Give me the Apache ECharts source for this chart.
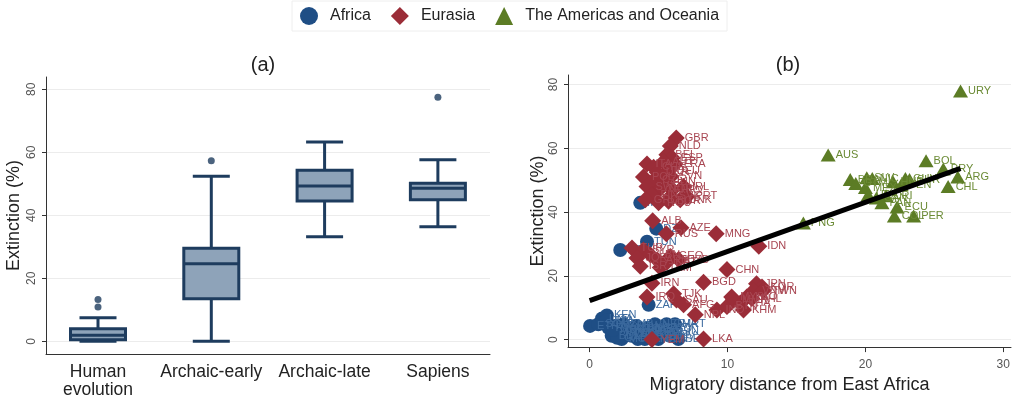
<!DOCTYPE html>
<html>
<head>
<meta charset="utf-8">
<script src="https://cdn.jsdelivr.net/npm/echarts@6/dist/echarts.min.js"></script>
<style>
  html, body { margin: 0; padding: 0; background: #ffffff; }
  #chart { width: 1015px; height: 399px; }
</style>
</head>
<body>
<div id="chart"></div>
<script>
// ---- Panel (a): extinction by stage of human evolution ----
const groups = ['Human\nevolution', 'Archaic-early', 'Archaic-late', 'Sapiens'];
// [lower whisker, Q1, median, Q3, upper whisker]
const boxStats = [
  [0, 0.5, 1.9, 4.0, 7.5],
  [0, 13.5, 24.6, 29.5, 52.4],
  [33.2, 44.5, 49.3, 54.3, 63.3],
  [36.4, 44.9, 48.6, 50.2, 57.6]
];
// [group index, value]
const boxOutliers = [[0, 13.3], [0, 10.9], [1, 57.3], [3, 77.5]];

// ---- Panel (b): extinction vs migratory distance, by region ----
// [distance, extinction, country code]
const africa = [
  [0.03, 4.3, 'ETH'], [0.63, 4.8, 'SOM'], [0.9, 6.6, 'UGA'], [1.25, 7.6, 'KEN'],
  [1.23, 6.0, 'TZA'], [1.36, 3.7, 'RWA'], [1.6, 1.2, 'BDI'], [1.84, 4.3, 'SSD'],
  [2.08, 2.2, 'MWI'], [2.44, 4.8, 'ZMB'], [2.32, 0.2, 'MOZ'], [2.65, 1.8, 'COD'],
  [2.8, 3.2, 'AGO'], [3.04, 1.2, 'ZWE'], [3.41, 4.3, 'BWA'], [3.5, 0.2, 'NAM'],
  [3.77, 2.2, 'CAF'], [4.0, 0.2, 'CMR'], [4.2, 1.2, 'TCD'], [4.25, 3.7, 'NGA'],
  [4.74, 4.8, 'NER'], [4.98, 0.2, 'BEN'], [5.2, 3.2, 'TGO'], [5.58, 4.8, 'GHA'],
  [5.83, 1.2, 'CIV'], [6.19, 4.8, 'MRT'], [6.43, 0.2, 'SEN'], [5.4, 2.0, 'MLI'],
  [4.5, 2.5, 'BFA'], [6.0, 2.8, 'GIN'], [3.2, 2.8, 'LBR'], [5.0, 1.6, 'SLE'],
  [2.0, 0.6, 'GAB'], [1.7, 3.0, 'MDG'], [3.6, 3.4, 'COG'],
  [4.28, 10.9, 'ZAF'], [2.22, 28.1, 'EGY'], [4.16, 30.7, 'TUN'],
  [4.83, 34.8, 'DZA'], [3.67, 42.9, 'MAR']
];
const eurasia = [
  [6.28, 63.2, 'GBR'], [5.85, 60.7, 'NLD'], [5.6, 58.0, 'BEL'], [6.0, 57.0, 'ESP'],
  [6.2, 55.0, 'FRA'], [5.7, 53.0, 'DEU'], [4.16, 55.1, 'ITA'], [4.64, 54.1, 'CHE'],
  [5.36, 55.8, 'AUT'], [3.9, 51.0, 'POL'], [4.64, 50.0, 'CZE'], [5.36, 49.5, 'HUN'],
  [4.16, 48.0, 'SWE'], [5.12, 47.4, 'NOR'], [6.81, 48.0, 'IRL'], [4.52, 45.4, 'FIN'],
  [6.57, 43.9, 'DNK'], [7.06, 44.9, 'PRT'], [4.04, 43.9, 'GRC'], [5.0, 42.9, 'ROU'],
  [5.72, 43.4, 'BGR'], [5.85, 44.9, 'SVK'], [4.9, 52.5, 'UKR'], [5.9, 51.2, 'SVN'],
  [6.0, 47.0, 'HRV'],
  [4.57, 37.3, 'ALB'], [5.56, 33.2, 'RUS'], [6.62, 35.1, 'AZE'], [9.18, 33.2, 'MNG'],
  [12.27, 29.3, 'IDN'],
  [3.07, 28.7, 'TUR'], [3.9, 28.1, 'SYR'], [4.4, 26.6, 'LBN'], [3.43, 25.6, 'JOR'],
  [3.67, 23.0, 'ISR'], [5.12, 22.6, 'TKM'], [5.85, 26.1, 'GEO'], [6.45, 25.1, 'UZB'],
  [4.9, 25.0, 'ARM'], [5.6, 24.3, 'KAZ'],
  [9.96, 22.0, 'CHN'], [8.26, 18.0, 'BGD'], [4.52, 17.7, 'IRN'], [12.1, 17.5, 'JPN'],
  [12.5, 16.5, 'KOR'], [6.09, 14.4, 'TJK'], [4.16, 13.4, 'IRQ'], [6.3, 12.4, 'SAU'],
  [6.81, 10.9, 'AFG'], [7.66, 7.8, 'NPL'], [9.23, 9.3, 'IND'], [9.96, 10.4, 'BTN'],
  [10.43, 12.4, 'MMR'], [10.92, 11.4, 'THA'], [11.4, 13.4, 'LAO'], [11.9, 15.4, 'VNM'],
  [11.16, 9.3, 'KHM'], [10.3, 13.4, 'MYS'], [11.76, 12.9, 'PHL'], [12.6, 15.4, 'TWN'],
  [4.52, 0.0, 'YEM'], [8.26, 0.2, 'LKA']
];
const americas = [
  [26.9, 78.0, 'URY'], [17.3, 57.9, 'AUS'], [24.4, 56.1, 'BOL'], [25.65, 53.5, 'PRY'],
  [26.7, 51.0, 'ARG'], [26.0, 48.0, 'CHL'], [18.9, 50.2, 'BRA'], [20.1, 50.8, 'SLV'],
  [20.5, 50.5, 'NIC'], [19.3, 49.0, 'GTM'], [22.0, 49.5, 'HND'], [22.9, 50.5, 'GUY'],
  [23.2, 50.2, 'SUR'], [20.0, 47.7, 'MEX'], [22.6, 48.6, 'VEN'], [20.2, 45.4, 'USA'],
  [20.8, 44.4, 'CAN'], [21.5, 45.1, 'CRI'], [21.2, 42.9, 'PAN'], [22.3, 41.6, 'ECU'],
  [22.1, 38.8, 'COL'], [23.5, 38.8, 'PER'], [15.5, 36.6, 'PNG']
];
// Fitted linear trend, endpoints [distance, extinction]
const fitLine = [[0, 12.2], [26.9, 53.7]];

const yTicks = [0, 20, 40, 60, 80];
const xTicksB = [0, 10, 20, 30];
const regionNames = ['Africa', 'Eurasia', 'The Americas and Oceania'];

const FONT = '"Liberation Sans", Arial, Helvetica, sans-serif';
const BOX_FILL = '#8ea3b9';
const BOX_EDGE = '#1e3c5e';
const C_AFR = '#1f4e85', C_EUR = '#9b2d38', C_AME = '#5c7c25';
const GRID_LINE = '#ececec';

const chart = echarts.init(document.getElementById('chart'), null, { renderer: 'canvas' });

function valueAxisY(gridIndex, min, max, nameGap) {
  return {
    type: 'value', gridIndex, min, max,
    name: 'Extinction (%)', nameLocation: 'middle', nameGap, nameRotate: 90,
    nameTextStyle: { fontFamily: FONT, fontSize: 18, color: '#222' },
    axisLine: { show: true, onZero: false, lineStyle: { color: '#333', width: 1 } },
    axisTick: { show: true, length: 4, customValues: yTicks, lineStyle: { color: '#333' } },
    axisLabel: { customValues: yTicks, rotate: 90, margin: 8, fontFamily: FONT, fontSize: 12, color: '#555' },
    splitLine: { show: true, lineStyle: { color: GRID_LINE, width: 1 } },
    minorTick: { show: false }
  };
}

function regionSeries(name, points, symbol, size, color, labelColor, z) {
  return {
    type: 'scatter', name, xAxisIndex: 1, yAxisIndex: 1, z,
    symbol, symbolSize: size,
    itemStyle: { color, opacity: 1 },
    label: {
      show: true, position: 'right', distance: 0, formatter: '{b}',
      fontFamily: FONT, fontSize: 11, color: labelColor
    },
    emphasis: { disabled: true },
    data: points.map(p => ({ value: [p[0], p[1]], name: p[2] }))
  };
}

const option = {
  animation: false,
  backgroundColor: '#ffffff',
  legend: {
    data: regionNames,
    left: 292, top: 1,
    padding: [6, 8],
    itemWidth: 18, itemHeight: 18, itemGap: 20,
    borderColor: '#eeeeee', borderWidth: 1,
    textStyle: { fontFamily: FONT, fontSize: 16, color: '#222', padding: [0, 0, 0, 7] },
    selectedMode: false
  },
  graphic: [
    { type: 'text', x: 263, y: 65, style: { text: '(a)', fontFamily: FONT, fontSize: 20, fill: '#222', textAlign: 'center', textVerticalAlign: 'middle' } },
    { type: 'text', x: 788, y: 65, style: { text: '(b)', fontFamily: FONT, fontSize: 20, fill: '#222', textAlign: 'center', textVerticalAlign: 'middle' } }
  ],
  grid: [
    { left: 46, right: 525, top: 77, bottom: 45 },
    { left: 568, right: 4, top: 75, bottom: 44 }
  ],
  xAxis: [
    {
      type: 'value', gridIndex: 0, min: -0.459, max: 3.46,
      axisLine: { show: true, onZero: false, lineStyle: { color: '#333', width: 1 } },
      axisTick: { show: false, customValues: [0, 1, 2, 3] },
      axisLabel: {
        customValues: [0, 1, 2, 3], margin: 9,
        formatter: v => groups[Math.round(v)],
        fontFamily: FONT, fontSize: 17.5, lineHeight: 18, color: '#222'
      },
      splitLine: { show: false }
    },
    {
      type: 'value', gridIndex: 1, min: -1.57, max: 30.56,
      name: 'Migratory distance from East Africa', nameLocation: 'middle', nameGap: 25,
      nameTextStyle: { fontFamily: FONT, fontSize: 18, color: '#222' },
      axisLine: { show: true, onZero: false, lineStyle: { color: '#333', width: 1 } },
      axisTick: { show: true, length: 5, customValues: xTicksB, lineStyle: { color: '#333' } },
      axisLabel: { customValues: xTicksB, margin: 12, fontFamily: FONT, fontSize: 12, color: '#555' },
      splitLine: { show: false }
    }
  ],
  yAxis: [
    valueAxisY(0, -4.03, 83.9, 23),
    valueAxisY(1, -2.35, 83.0, 20)
  ],
  series: [
    {
      type: 'custom', name: 'boxes', xAxisIndex: 0, yAxisIndex: 0, z: 3,
      data: boxStats.map((s, i) => [i].concat(s)),
      encode: { x: 0, y: [1, 2, 3, 4, 5] },
      renderItem: function (params, api) {
        const i = api.value(0);
        const pt = k => api.coord([i, api.value(k)]);
        const lo = pt(1), q1 = pt(2), md = pt(3), q3 = pt(4), hi = pt(5);
        const cx = lo[0], bw = 55, cw = 37;
        const st = { stroke: BOX_EDGE, lineWidth: 3 };
        return {
          type: 'group',
          children: [
            { type: 'line', shape: { x1: cx, y1: q3[1], x2: cx, y2: hi[1] }, style: st },
            { type: 'line', shape: { x1: cx - cw / 2, y1: hi[1], x2: cx + cw / 2, y2: hi[1] }, style: st },
            { type: 'line', shape: { x1: cx, y1: q1[1], x2: cx, y2: lo[1] }, style: st },
            { type: 'line', shape: { x1: cx - cw / 2, y1: lo[1], x2: cx + cw / 2, y2: lo[1] }, style: st },
            { type: 'rect', shape: { x: cx - bw / 2, y: q3[1], width: bw, height: q1[1] - q3[1] },
              style: { fill: BOX_FILL, stroke: BOX_EDGE, lineWidth: 3 } },
            { type: 'line', shape: { x1: cx - bw / 2, y1: md[1], x2: cx + bw / 2, y2: md[1] }, style: st }
          ]
        };
      }
    },
    {
      type: 'scatter', name: 'outliers', xAxisIndex: 0, yAxisIndex: 0, z: 4,
      symbol: 'circle', symbolSize: 7,
      itemStyle: { color: BOX_EDGE },
      emphasis: { disabled: true },
      data: boxOutliers
    },
    regionSeries('Africa', africa, 'circle', 14, C_AFR, '#3c6a9e', 2),
    regionSeries('Eurasia', eurasia, 'diamond', 17, C_EUR, '#a84652', 3),
    regionSeries('The Americas and Oceania', americas, 'triangle', [15, 13], C_AME, '#6b8b35', 4),
    {
      type: 'line', name: 'fit', xAxisIndex: 1, yAxisIndex: 1, z: 10,
      symbol: 'none', silent: true,
      lineStyle: { color: '#000000', width: 5 },
      data: fitLine
    }
  ]
};

chart.setOption(option);
</script>
</body>
</html>
